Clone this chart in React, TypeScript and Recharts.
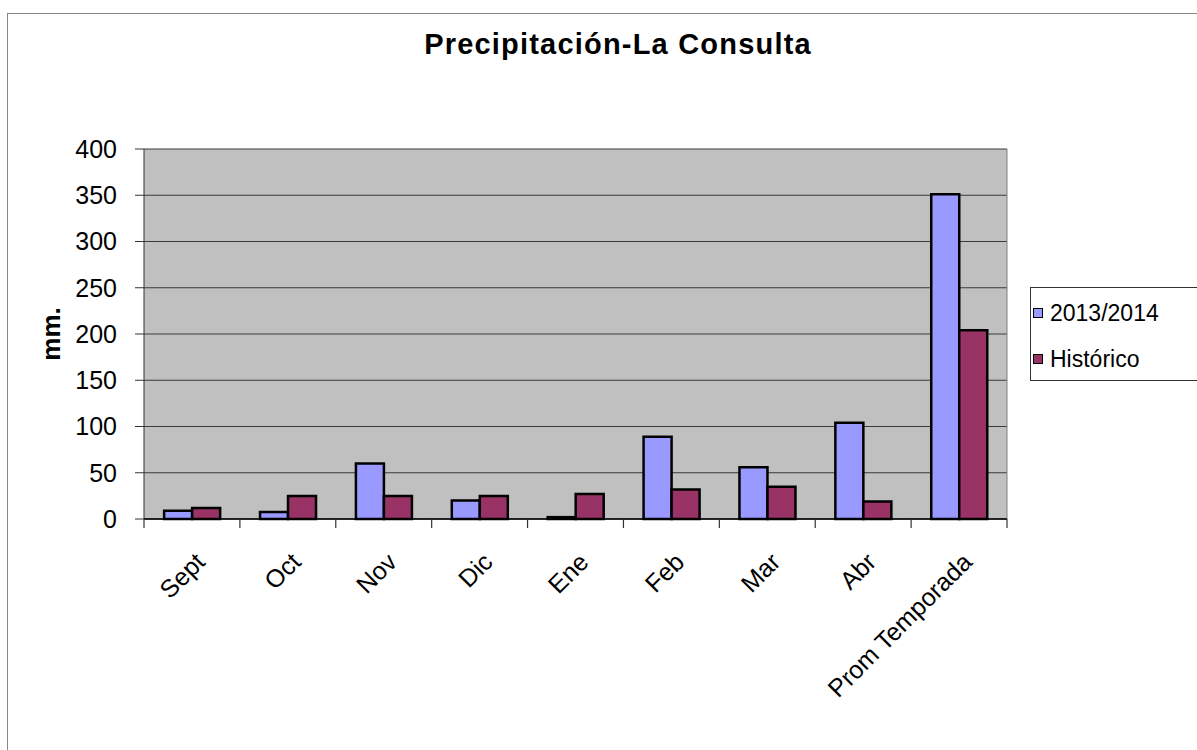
import React from 'react';
import {
  BarChart,
  Bar,
  XAxis,
  YAxis,
  CartesianGrid,
  Legend,
} from 'recharts';

const MONTHS = ['Sept', 'Oct', 'Nov', 'Dic', 'Ene', 'Feb', 'Mar', 'Abr', 'Prom Temporada'];
const SEASON_2013 = [9, 7.5, 60, 20, 2, 89, 56, 104, 351];
const HISTORICO = [12, 25, 25, 25, 27, 32, 35, 19, 204];
const Y_TICKS = [0, 50, 100, 150, 200, 250, 300, 350, 400];

const SERIES = [
  { key: 'actual', name: '2013/2014', color: '#9999FF' },
  { key: 'hist', name: 'Histórico', color: '#993366' },
];

const data = MONTHS.map((m, i) => ({ name: m, actual: SEASON_2013[i], hist: HISTORICO[i] }));

const FONT = '"Liberation Sans", Arial, sans-serif';

// category label + Excel-style tick marks on the category boundaries
const MonthTick = (props: any) => {
  const { x, y, payload, index, width, visibleTicksCount } = props;
  const half = payload.offset || (width && visibleTicksCount ? width / visibleTicksCount / 2 : 0);
  return (
    <g>
      {index === 0 && <line x1={x - half} x2={x - half} y1={y} y2={y + 9} stroke="#333" strokeWidth={1.2} />}
      <line x1={x + half} x2={x + half} y1={y} y2={y + 9} stroke="#333" strokeWidth={1.2} />
      <g transform={`translate(${x + 2},${y + 32})`}>
        <text
          x={0}
          y={0}
          dy="0.71em"
          textAnchor="end"
          transform="rotate(-45)"
          fontSize={25}
          fontFamily={FONT}
          fill="#000"
        >
          {payload.value}
        </text>
      </g>
    </g>
  );
};

const LegendBox = () => (
  <div
    style={{
      position: 'relative',
      width: 200,
      height: 92,
      border: '1px solid #333',
      background: '#fff',
      fontFamily: FONT,
      fontSize: 23,
      color: '#000',
    }}
  >
    {SERIES.map((s, i) => (
      <div
        key={s.key}
        style={{ position: 'absolute', left: 2, top: 12 + i * 46, height: 26, display: 'flex', alignItems: 'center' }}
      >
        <span
          style={{
            display: 'inline-block',
            width: 8,
            height: 8,
            border: '1.5px solid #000',
            background: s.color,
            marginRight: 7,
          }}
        />
        <span style={{ lineHeight: '26px' }}>{s.name}</span>
      </div>
    ))}
  </div>
);

export default function App() {
  return (
    <div style={{ position: 'absolute', left: 0, top: 0, width: 1197, height: 750, overflow: 'hidden', background: '#fff' }}>
      <div
        style={{
          position: 'absolute',
          left: 7,
          top: 13,
          width: 1300,
          height: 800,
          border: '1px solid #888',
        }}
      />
      <div
        style={{
          position: 'absolute',
          left: 0,
          top: 30,
          width: 1236,
          textAlign: 'center',
          fontFamily: FONT,
          fontWeight: 'bold',
          fontSize: 29,
          letterSpacing: 1.2,
          lineHeight: '28px',
          color: '#000',
        }}
      >
        Precipitación-La Consulta
      </div>
      <div style={{ position: 'absolute', left: 0, top: 0 }}>
        <BarChart
          width={1197}
          height={750}
          data={data}
          margin={{ top: 149, right: 190, left: 44, bottom: 230 }}
          barCategoryGap="21%"
          barGap={0}
        >
          <CartesianGrid fill="#C0C0C0" stroke="#3a3a3a" vertical={false} />
          <CartesianGrid
            horizontal={false}
            stroke="#808080"
            verticalCoordinatesGenerator={({ offset }: any) => [offset.left + offset.width]}
          />
          <XAxis
            dataKey="name"
            height={1}
            axisLine={{ stroke: '#000', strokeWidth: 1.5 }}
            tickLine={false}
            tickSize={0}
            tickMargin={0}
            interval={0}
            tick={<MonthTick />}
          />
          <YAxis
            width={100}
            domain={[0, 400]}
            ticks={Y_TICKS}
            interval={0}
            tickSize={9}
            tickMargin={18}
            axisLine={{ stroke: '#333' }}
            tickLine={{ stroke: '#333' }}
            tick={{ fontSize: 25, fontFamily: FONT, fill: '#000' }}
            label={({ viewBox }: any) => (
              <text
                x={viewBox.x + 7}
                y={viewBox.y + viewBox.height / 2}
                transform={`rotate(-90, ${viewBox.x + 7}, ${viewBox.y + viewBox.height / 2})`}
                textAnchor="middle"
                dominantBaseline="central"
                fontSize={26}
                fontWeight="bold"
                fontFamily={FONT}
                fill="#000"
              >
                mm.
              </text>
            )}
          />
          <Legend
            layout="horizontal"
            verticalAlign="middle"
            align="center"
            content={<LegendBox />}
            wrapperStyle={{ position: 'absolute', left: 1030, top: 287, width: 200, height: 94 }}
          />
          {SERIES.map((s) => (
            <Bar
              key={s.key}
              dataKey={s.key}
              name={s.name}
              fill={s.color}
              stroke="#000"
              strokeWidth={2.5}
              isAnimationActive={false}
            />
          ))}
        </BarChart>
      </div>
    </div>
  );
}
